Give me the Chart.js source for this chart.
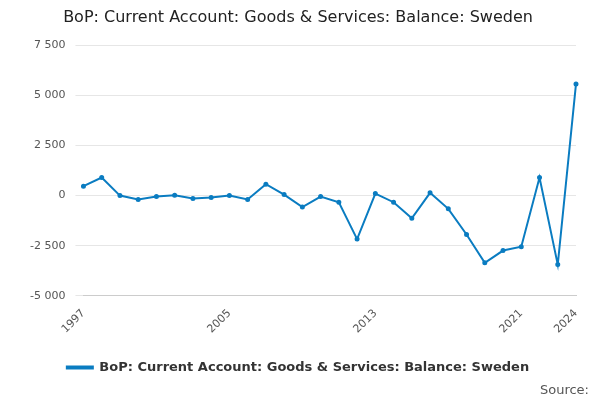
<!DOCTYPE html>
<html><head><meta charset="utf-8">
<script src="https://cdn.jsdelivr.net/npm/chart.js@4"></script>
<style>body{margin:0;background:#fff}#w{position:relative;width:600px;height:400px}
#src{position:absolute;right:11px;bottom:3px;font:13px "DejaVu Sans";color:#555}</style>
</head><body><div id="w"><canvas id="c" width="600" height="400"></canvas><div id="src">Source:</div></div>
<script>
const years=[];for(let y=1997;y<=2024;y++)years.push(String(y));
const values=[470,900,0,-190,-50,20,-140,-90,0,-190,570,50,-570,-50,-330,-2170,100,-330,-1130,140,-660,-1940,-3350,-2740,-2550,900,-3440,5570];
const shownLabels=["1997","2005","2013","2021","2024"];
new Chart(document.getElementById('c'),{type:'line',
data:{labels:years,datasets:[{label:'BoP: Current Account: Goods & Services: Balance: Sweden',data:values,borderColor:'#0a7cc1',backgroundColor:'#0a7cc1',borderWidth:2,pointRadius:1.5,tension:0}]},
options:{responsive:false,animation:false,
layout:{padding:{left:20,right:24,top:0,bottom:16}},
plugins:{title:{display:true,text:'BoP: Current Account: Goods & Services: Balance: Sweden',font:{family:'DejaVu Sans',size:16,weight:'normal'},color:'#222',padding:{top:8,bottom:18}},
legend:{position:'bottom',labels:{font:{family:'DejaVu Sans',size:13,weight:'bold'},color:'#333',boxWidth:26,boxHeight:2,padding:22}}},
scales:{y:{min:-5000,max:7500,ticks:{stepSize:2500,padding:10,font:{family:'DejaVu Sans',size:11},color:'#555',callback:v=>v.toLocaleString('en').replace(',',' ')},grid:{color:'#e6e6e6'},border:{display:false}},
x:{grid:{display:false},ticks:{autoSkip:false,maxRotation:45,minRotation:45,font:{family:'DejaVu Sans',size:11},color:'#555',callback:function(v){const l=this.getLabelForValue(v);return shownLabels.includes(l)?l:'';}},border:{color:'#ccc'}}}}});
</script></body></html>
